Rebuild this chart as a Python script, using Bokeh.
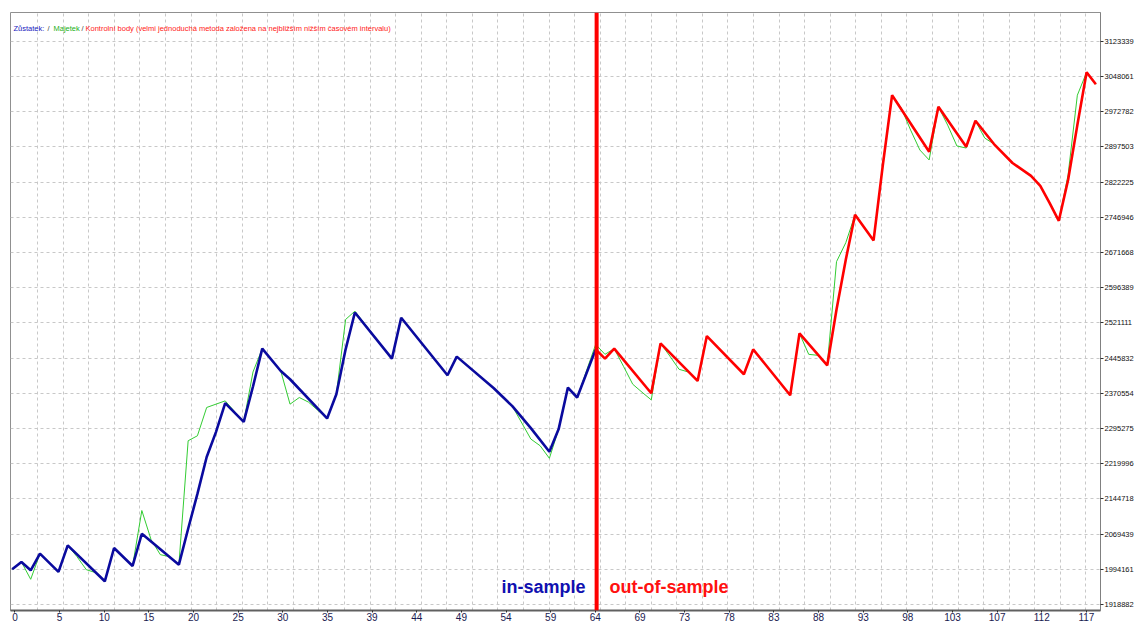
from bokeh.plotting import figure
from bokeh.models import (Range1d, FixedTicker, Span, Label, NumeralTickFormatter,
                          CustomJSTickFormatter)
from bokeh.embed import file_html
from bokeh.resources import INLINE

# ---- data (trade number -> account value) ----
in_trades = [0, 1, 2, 3, 5, 6, 10, 11, 13, 14, 18, 19, 20, 21, 22, 23, 25, 26, 27, 29,
             30, 34, 35, 36, 37, 41, 42, 47, 48, 52, 54, 56, 58, 59, 60, 61, 63]
in_balance = [1994138, 2009914, 1992006, 2027609, 1988595, 2045304, 1968555, 2039761,
              2001387, 2070247, 2004158, 2080906, 2155523, 2234403, 2287701, 2349526,
              2309659, 2385129, 2466141, 2418386, 2400691, 2316908, 2368713, 2464648,
              2543529, 2444822, 2532230, 2409219, 2449086, 2381504, 2343130, 2296228,
              2245702, 2294096, 2382997, 2361678, 2464648]

out_trades = [63, 64, 65, 69, 70, 74, 75, 79, 80, 84, 85, 88, 89, 90, 91, 93, 94, 95, 99,
              100, 103, 104, 106, 108, 110, 111, 112, 113, 114, 115, 116, 117]
out_balance = [2464648, 2444822, 2466141, 2370845, 2477440, 2397067, 2493003, 2411351,
               2464648, 2366581, 2498759, 2430538, 2549924, 2656519, 2752455, 2697665,
               2859050, 3008283, 2887404, 2983340, 2898064, 2953493, 2903820, 2863314,
               2835599, 2814280, 2778038, 2739664, 2827071, 2944326, 3057317, 3031734]

equity_trades = [0, 1, 2, 3, 5, 6, 7, 8, 9, 10, 11, 13, 14, 15, 16, 17, 18, 19, 20, 21,
                 23, 25, 26, 27, 29, 30, 31, 32, 34, 35, 36, 37, 41, 42, 47, 48, 52, 54,
                 56, 57, 58, 59, 60, 61, 63, 64, 65, 66, 67, 68, 69, 70, 71, 72, 73, 74,
                 75, 79, 80, 84, 85, 86, 87, 88, 89, 90, 91, 93, 94, 95, 96, 97, 98, 99,
                 100, 101, 102, 103, 104, 105, 106, 108, 110, 111, 112, 113, 114, 115,
                 116, 117]
equity_values = [1994138, 2009914, 1972819, 2027609, 1988595, 2045304, 2021213, 1993499,
                 1987103, 1968555, 2039761, 2001387, 2119920, 2057456, 2025477, 2021213,
                 2004158, 2269153, 2279813, 2340359, 2354429, 2309659, 2416254, 2466141,
                 2418386, 2347394, 2361678, 2351658, 2316908, 2368713, 2528605, 2546300,
                 2444822, 2532230, 2409219, 2449086, 2381504, 2343130, 2272777, 2258494,
                 2231632, 2294096, 2382997, 2361678, 2475308, 2453989, 2466141, 2428406,
                 2390032, 2372977, 2356561, 2477440, 2450365, 2422010, 2416254, 2397067,
                 2493003, 2411351, 2464648, 2366581, 2498759, 2453989, 2451857, 2430538,
                 2652256, 2692762, 2752455, 2697665, 2859050, 3008283, 2980568, 2933666,
                 2891028, 2869709, 2983340, 2944326, 2899556, 2895292, 2953493, 2916611,
                 2903820, 2863314, 2835599, 2814280, 2778038, 2739664, 2837731, 3008283,
                 3057317, 3031734]

split_trade = 63.1

x_tick_labels = ["0", "5", "10", "15", "20", "25", "30", "35", "39", "44", "49", "54",
                 "59", "64", "69", "73", "78", "83", "88", "93", "98", "103", "107",
                 "112", "117"]
y_tick_values = [1918882, 1994161, 2069439, 2144718, 2219996, 2295275, 2370554, 2445832,
                 2521111, 2596389, 2671668, 2746946, 2822225, 2897503, 2972782, 3048061,
                 3123339]

legend_parts = ["Zůstatek:", "/", "Majetek", "/",
                "Kontrolní body (velmi jednoduchá metoda založena na nejbližším nižším časovém intervalu)"]

# ---- figure ----
x0, x1 = -0.18, 117.5
y0, y1 = 1906090, 3185164

p = figure(width=1136, height=623, output_backend="svg", toolbar_location=None,
           x_range=Range1d(x0, x1), y_range=Range1d(y0, y1),
           y_axis_location="right", min_border_left=10, min_border_top=12,
           min_border_right=0, min_border_bottom=0)
p.background_fill_color = "white"
p.border_fill_color = "white"
p.outline_line_color = "#909090"
p.outline_line_width = 1

# grid
label_step = 4.82
x_tick_pos = [0.3 + label_step * i for i in range(len(x_tick_labels))]
grid_step = 2.76
p.xgrid.ticker = FixedTicker(ticks=[grid_step * k for k in range(1, 43)])
p.xgrid.grid_line_color = "#c8c8c8"
p.xgrid.grid_line_dash = "3 3"
p.ygrid.ticker = FixedTicker(ticks=y_tick_values)
p.ygrid.grid_line_color = "#c8c8c8"
p.ygrid.grid_line_dash = "3 3"

# axes
xa = p.xaxis[0]
xa.ticker = FixedTicker(ticks=x_tick_pos)
xa.formatter = CustomJSTickFormatter(args=dict(labels=x_tick_labels),
                                     code="return labels[index];")
xa.axis_label = None
xa.axis_line_color = "#606060"
xa.axis_line_width = 2
xa.major_tick_line_color = "#303030"
xa.major_tick_out = 2
xa.major_tick_in = 0
xa.minor_tick_line_color = None
xa.minor_tick_out = 0
xa.major_label_standoff = 0
xa.major_label_text_font = "Liberation Sans"
xa.major_label_text_font_size = "10px"
xa.major_label_text_color = "#1a1a50"

ya = p.yaxis[0]
ya.ticker = FixedTicker(ticks=y_tick_values)
ya.formatter = NumeralTickFormatter(format="0")
ya.axis_label = None
ya.axis_line_color = "#808080"
ya.axis_line_width = 1
ya.major_tick_line_color = "#303030"
ya.major_tick_out = 3
ya.major_tick_in = 0
ya.minor_tick_line_color = None
ya.minor_tick_out = 0
ya.major_label_standoff = 1
ya.major_label_text_font = "Liberation Sans"
ya.major_label_text_font_size = "7.5px"
ya.major_label_text_color = "#101010"

# lines
p.line(equity_trades, equity_values, line_color="#33cc33", line_width=1)
p.line(in_trades, in_balance, line_color="#0a0a9e", line_width=2.6)
p.line(out_trades, out_balance, line_color="#ff0000", line_width=2.6)

p.add_layout(Span(location=split_trade, dimension="height", line_color="#ff0000",
                  line_width=4))

# in / out of sample texts
p.add_layout(Label(x=split_trade - 1.2, y=1957256, text="in-sample", text_align="right",
                   text_baseline="middle", text_font="Liberation Sans",
                   text_font_style="bold", text_font_size="18px", text_color="#1010b0"))
p.add_layout(Label(x=split_trade + 1.4, y=1957256, text="out-of-sample", text_align="left",
                   text_baseline="middle", text_font="Liberation Sans",
                   text_font_style="bold", text_font_size="18px", text_color="#ff1010"))

# top legend text
legend_colors = ["#2020c0", "#404040", "#20b020", "#404040", "#ff2020"]
legend_offsets = [3, 37, 43, 71, 75]
for txt, col, off in zip(legend_parts, legend_colors, legend_offsets):
    p.add_layout(Label(x=x0, y=3151054, x_offset=off, text=txt, text_align="left",
                       text_baseline="middle", text_font="Liberation Sans",
                       text_font_size="7.5px", text_color=col))

open("out.html", "w").write(file_html(p, INLINE))
